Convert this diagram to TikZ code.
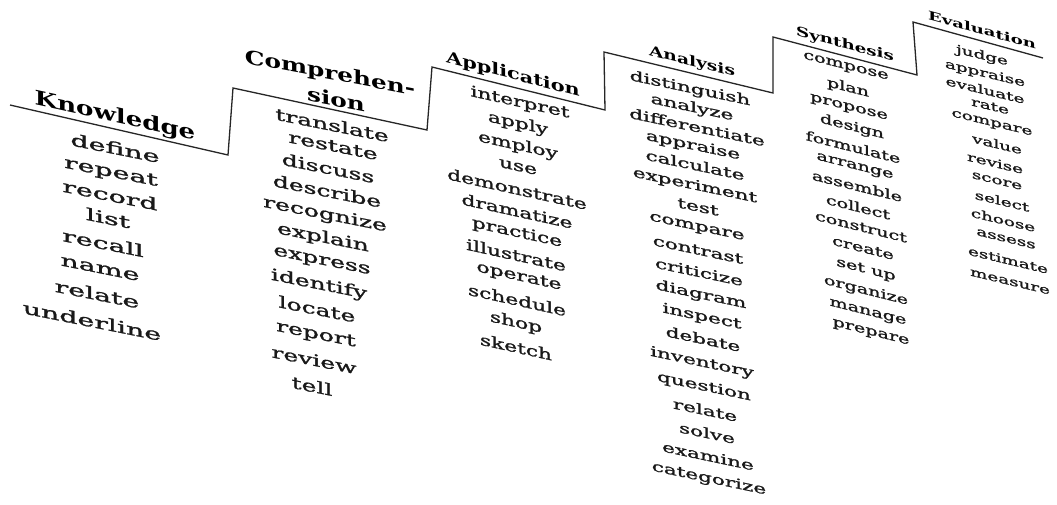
\documentclass[tikz,border=0pt]{standalone}
\usepackage{fontspec}
\setmainfont{DejaVu Serif}
\newfontfamily\wordfont{DejaVu Serif}[FakeBold=1.2]
\begin{document}
\begin{tikzpicture}[x=1pt,y=-1pt,
  stepline/.style={line width=1.3pt, black!85, line join=miter},
  word/.style={font=\wordfont\fontsize{#1}{#1}\selectfont, inner sep=0pt, text=black!90},
  wK/.style={word=16.5, yslant=-0.2, xscale=1.72},
  wC/.style={word=16, yslant=-0.2, xscale=1.56},
  wA/.style={word=15, yslant=-0.22, xscale=1.45},
  wN/.style={word=13.8, yslant=-0.21, xscale=1.56},
  wS/.style={word=13, yslant=-0.25, xscale=1.47},
  wE/.style={word=11.8, yslant=-0.24, xscale=1.55},
  head/.style={font=\bfseries\fontsize{#1}{#1}\selectfont, inner sep=0pt, text=black},
]
\useasboundingbox (0,0) rectangle (1057,504);
\fill[white] (0,0) rectangle (1057,504);

% staircase
\coordinate (p0) at (10,105);
\coordinate (p1) at (228,155);
\coordinate (p2) at (233,88);
\coordinate (p3) at (427,130);
\coordinate (p4) at (432,67);
\coordinate (p5) at (605,110);
\coordinate (p6) at (604,52);
\coordinate (p7) at (773,93);
\coordinate (p8) at (773,37);
\coordinate (p9) at (917,75);
\coordinate (p10) at (913,22);
\coordinate (p11) at (1043,58);
\draw[stepline] (p0) -- (p1) -- (p2) -- (p3) -- (p4) -- (p5) -- (p6) -- (p7) -- (p8) -- (p9) -- (p10) -- (p11);

% headings
\node[head=20, yslant=-0.22, xscale=1.3] (hK) at (115,117) {Knowledge};
\node[head=19, yslant=-0.19, xscale=1.3] (hC1) at (330,74) {Comprehen-};
\node[head=19, yslant=-0.19, xscale=1.3] (hC2) at (336,99) {sion};
\node[head=16, yslant=-0.26, xscale=1.3] (hA) at (513,75) {Application};
\node[head=14, yslant=-0.25, xscale=1.33] (hN) at (692,62) {Analysis};
\node[head=13, yslant=-0.26, xscale=1.4] (hS) at (845,45) {Synthesis};
\node[head=12, yslant=-0.27, xscale=1.5] (hE) at (982,30) {Evaluation};

% Knowledge
\foreach \w/\x/\y [count=\i] in {define/115/148, repeat/111/173, record/110/195, list/108/218, recall/103/243, name/100/269, relate/97/294, underline/92/321}
  \node[wK] (k\i) at (\x,\y) {\w};
% Comprehension
\foreach \w/\x/\y [count=\i] in {translate/332/125, restate/333/146, discuss/328/168, describe/327/191, recognize/325/215, explain/323/238, express/322/262, identify/319/285, locate/317/309, report/316/335, review/314/360, tell/312/386}
  \node[wC] (c\i) at (\x,\y) {\w};
% Application
\foreach \w/\x/\y [count=\i] in {interpret/520/103, apply/518/124, employ/518/146, use/518/167, demonstrate/517/189, dramatize/517/211, practice/517/233, illustrate/516/255, operate/519/277, schedule/517/300, shop/516/323, sketch/516/347}
  \node[wA] (a\i) at (\x,\y) {\w};
% Analysis
\foreach \w/\x/\y [count=\i] in {distinguish/690/89, analyze/692/108, differentiate/697/127, appraise/693/146, calculate/695/165, experiment/695/186, test/698/207, compare/697/228, contrast/698/250, criticize/699/272, diagram/701/295, inspect/702/317, debate/703/339, inventory/702/363, question/704/387, relate/705/410, solve/707/433, examine/708/456, categorize/709/479}
  \node[wN] (n\i) at (\x,\y) {\w};
% Synthesis
\foreach \w/\x/\y [count=\i] in {compose/846/67, plan/848/88, propose/849/108, design/852/127, formulate/853/147, arrange/855/167, assemble/857/186, collect/858/207, construct/861/227, create/863/248, set up/866/270, organize/866/291, manage/868/313, prepare/871/333}
  \node[wS] (s\i) at (\x,\y) {\w};
% Evaluation
\foreach \w/\x/\y [count=\i] in {judge/982/56, appraise/985/74, evaluate/985/90, rate/990/106, compare/992/124, value/997/144, revise/995/163, score/997/181, select/1002/201, choose/1003/220, assess/1006/239, estimate/1008/260, measure/1010/282}
  \node[wE] (e\i) at (\x,\y) {\w};
\end{tikzpicture}
\end{document}
